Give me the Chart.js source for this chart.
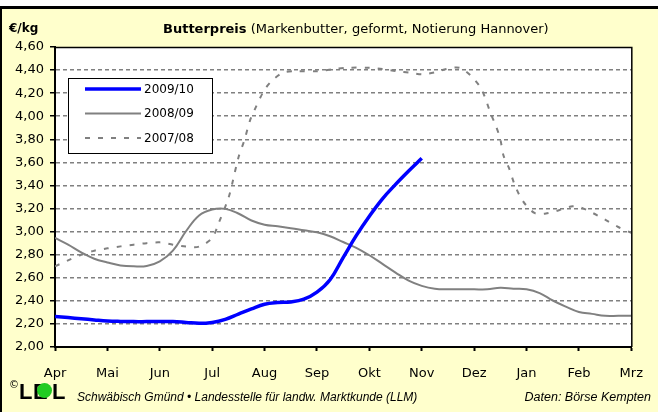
<!DOCTYPE html>
<html>
<head>
<meta charset="utf-8">
<script src="https://cdn.jsdelivr.net/npm/chart.js@4.4.1/dist/chart.umd.min.js"></script>
<style>
  html, body { margin:0; padding:0; background:#ffffff; }
  #frame { position:absolute; left:0; top:6px; width:656px; height:403px; background:#FFFFCC;
           border-top:3px solid #000; border-left:2px solid #000; }
  #wrap { position:absolute; left:0; top:0; width:658px; height:412px; }
  canvas { position:absolute; left:0; top:0; }
  .txt { position:absolute; font-family:"DejaVu Sans", sans-serif; color:#000; white-space:nowrap; line-height:1; }
</style>
</head>
<body>
<div id="frame"></div>
<div id="wrap"><canvas id="c" width="658" height="412"></canvas></div>
<div class="txt" style="left:9px; top:22px; font-size:12px; font-weight:bold;">€/kg</div>
<div class="txt" style="left:163px; top:22px; font-size:13px;"><b>Butterpreis</b> (Markenbutter, geformt, Notierung Hannover)</div>
<div class="txt" style="left:9px; top:380px; font-size:10px;">©</div>
<div class="txt" style="left:19px; top:381px; font-size:22px; font-weight:bold; font-family:'Liberation Sans',sans-serif;">L</div>
<div class="txt" style="left:33px; top:381px; font-size:22px; font-weight:bold; font-family:'Liberation Sans',sans-serif;">E</div>
<div style="position:absolute; left:37px; top:383px; width:15px; height:15px; border-radius:50%; background:#22CC22;"></div>
<div class="txt" style="left:52px; top:381px; font-size:22px; font-weight:bold; font-family:'Liberation Sans',sans-serif;">L</div>
<div class="txt" style="left:77px; top:391px; font-size:12px; font-style:italic; font-family:'Liberation Sans',sans-serif;">Schwäbisch Gmünd • Landesstelle für landw. Marktkunde (LLM)</div>
<div class="txt" style="right:7px; top:391px; font-size:12.5px; font-style:italic; font-family:'Liberation Sans',sans-serif;">Daten: Börse Kempten</div>
<script>
// Month labels (x axis ticks 0..11)
const months = ["Apr","Mai","Jun","Jul","Aug","Sep","Okt","Nov","Dez","Jan","Feb","Mrz"];
const seriesNames = ["2009/10","2008/09","2007/08"];

// 2009/10 (positions in months from April)
const pos0910 = [0,0.25,0.5,0.75,1,1.25,1.5,1.75,2,2.25,2.5,2.75,3,3.25,3.5,3.75,4,4.25,4.5,4.75,5,5.25,5.5,5.75,6,6.25,6.5,6.75,7];
const val0910 = [2.265,2.255,2.245,2.235,2.226,2.222,2.22,2.22,2.22,2.22,2.213,2.205,2.213,2.24,2.285,2.33,2.37,2.385,2.39,2.414,2.475,2.583,2.775,2.965,3.133,3.284,3.409,3.525,3.635];

// 2008/09
const pos0809 = [0,0.25,0.5,0.75,1,1.25,1.5,1.75,2,2.25,2.5,2.75,3,3.25,3.5,3.75,4,4.25,4.5,4.75,5,5.25,5.5,5.75,6,6.25,6.5,6.75,7,7.25,7.5,7.75,8,8.25,8.5,8.75,9,9.25,9.5,9.75,10,10.25,10.5,10.75,11];
const val0809 = [2.945,2.887,2.82,2.765,2.733,2.707,2.699,2.702,2.742,2.835,3.003,3.14,3.191,3.197,3.157,3.096,3.06,3.046,3.03,3.012,2.994,2.96,2.91,2.86,2.795,2.72,2.645,2.575,2.53,2.505,2.5,2.5,2.5,2.5,2.513,2.505,2.5,2.467,2.403,2.35,2.304,2.287,2.27,2.27,2.27];

// 2007/08
const pos0708 = [0,0.25,0.5,0.75,1,1.25,1.5,1.75,2,2.25,2.5,2.75,3,3.12,3.31,3.4,3.5,3.62,3.72,3.81,3.91,4.03,4.19,4.37,4.62,5,5.34,5.6,6,6.25,6.53,6.78,7.02,7.25,7.47,7.72,7.94,8.12,8.22,8.31,8.42,8.5,8.56,8.67,8.76,8.86,8.98,9.16,9.37,9.62,9.88,10.03,10.27,10.5,10.75,11];
const val0708 = [2.70,2.751,2.80,2.835,2.855,2.872,2.887,2.90,2.907,2.887,2.87,2.87,2.945,3.07,3.29,3.45,3.64,3.80,3.96,4.055,4.154,4.25,4.328,4.38,4.39,4.39,4.41,4.42,4.42,4.41,4.39,4.377,4.363,4.38,4.41,4.42,4.35,4.25,4.148,4.03,3.91,3.80,3.66,3.545,3.423,3.32,3.235,3.16,3.157,3.185,3.22,3.21,3.16,3.104,3.04,2.99];

const toXY = (p, v) => p.map((x, i) => ({x: x, y: v[i]}));

const bgPlugin = {
  id: 'plotbg',
  beforeDraw(chart) {
    const {ctx, chartArea: a} = chart;
    ctx.save();
    ctx.fillStyle = '#ffffff';
    ctx.fillRect(a.left, a.top, a.right - a.left, a.bottom - a.top);
    ctx.restore();
  },
  afterDraw(chart) {
    const {ctx, chartArea: a} = chart;
    ctx.save();
    ctx.strokeStyle = '#000';
    ctx.lineWidth = 1.5;
    ctx.beginPath();
    ctx.moveTo(a.left, a.top + 0.5);
    ctx.lineTo(a.right + 0.5, a.top + 0.5);
    ctx.lineTo(a.right + 0.5, a.bottom);
    ctx.stroke();
    // legend box
    const lx = a.left + 13, ly = a.top + 31, lw = 144, lh = 75;
    ctx.fillStyle = '#fff';
    ctx.fillRect(lx, ly, lw, lh);
    ctx.lineWidth = 1;
    ctx.strokeStyle = '#000';
    ctx.strokeRect(lx + 0.5, ly + 0.5, lw, lh);
    ctx.font = '12px "DejaVu Sans"';
    ctx.textBaseline = 'middle';
    chart.data.datasets.forEach((ds, i) => {
      const y = ly + 11 + i * 24.5;
      ctx.save();
      ctx.strokeStyle = ds.borderColor;
      ctx.lineWidth = ds.borderWidth;
      ctx.setLineDash(ds.borderDash || []);
      ctx.beginPath();
      ctx.moveTo(lx + 17, y);
      ctx.lineTo(lx + 73, y);
      ctx.stroke();
      ctx.restore();
      ctx.fillStyle = '#000';
      ctx.fillText(ds.label, lx + 76, y + 0.5);
    });
    ctx.restore();
  }
};

new Chart(document.getElementById('c'), {
  type: 'line',
  data: {
    datasets: [
      { label: seriesNames[0], data: toXY(pos0910, val0910), borderColor: '#0000FF', borderWidth: 3.5, pointRadius: 0, tension: 0.4, fill: false },
      { label: seriesNames[1], data: toXY(pos0809, val0809), borderColor: '#808080', borderWidth: 2, pointRadius: 0, tension: 0.4, fill: false },
      { label: seriesNames[2], data: toXY(pos0708, val0708), borderColor: '#808080', borderWidth: 2, borderDash: [5, 8], pointRadius: 0, tension: 0.3, fill: false }
    ]
  },
  options: {
    responsive: false,
    animation: false,
    layout: { padding: { left: 0, top: 47, right: 16, bottom: 25 } },
    plugins: { legend: { display: false }, title: { display: false }, tooltip: { enabled: false } },
    scales: {
      x: {
        type: 'linear', min: 0, max: 11,
        afterFit(s) { s.height = 40; },
        ticks: { stepSize: 1, autoSkip: false, maxRotation: 0, padding: 15, color: '#000',
                 font: { family: 'DejaVu Sans', size: 13 },
                 callback: (v) => months[v] },
        grid: { drawOnChartArea: false, drawTicks: true, tickLength: 4, tickColor: '#000', tickWidth: 2 },
        border: { color: '#000', width: 2 }
      },
      y: {
        min: 2, max: 4.6,
        afterFit(s) { s.width = 55; },
        ticks: { stepSize: 0.2, padding: 6, color: '#000',
                 font: { family: 'DejaVu Sans', size: 13 },
                 callback: (v) => v.toFixed(2).replace('.', ',') },
        grid: {
          color: (c) => (c.tick && (Math.abs(c.tick.value - 2) < 1e-6 || Math.abs(c.tick.value - 4.6) < 1e-6)) ? 'rgba(0,0,0,0)' : '#808080',
          lineWidth: 1.5, tickLength: 5, tickColor: '#000', tickWidth: 1.5, tickBorderDash: []
        },
        border: { color: '#000', width: 2, dash: [4, 3] }
      }
    }
  },
  plugins: [bgPlugin]
});
</script>
</body>
</html>
